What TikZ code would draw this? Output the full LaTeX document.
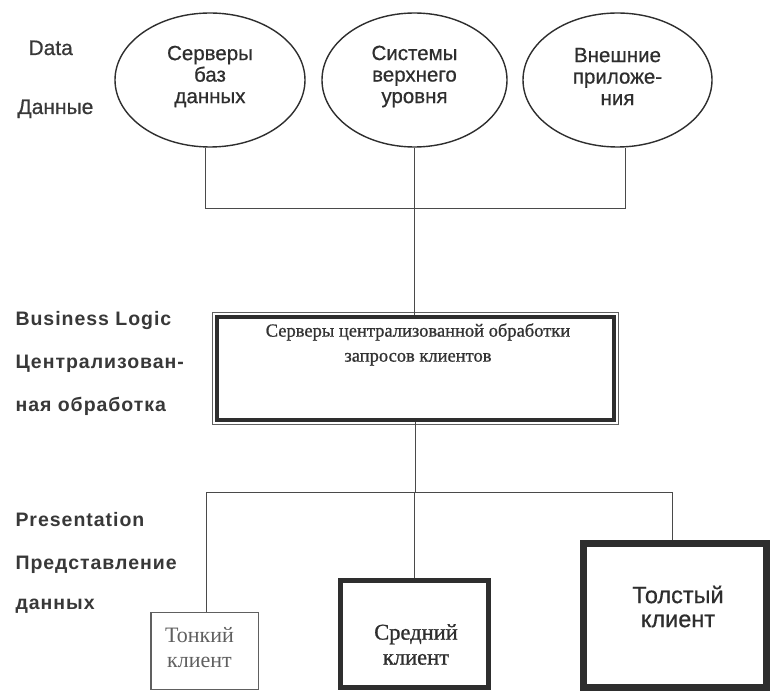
\documentclass[tikz,border=0pt]{standalone}
\usepackage{fontspec}
\setmainfont{Liberation Sans}
\newfontfamily\serifface{Liberation Serif}
\newfontfamily\serifheavy[FakeBold=1]{Liberation Serif}
\newfontfamily\sansheavy[FakeBold=0.6]{Liberation Sans}
\newfontfamily\lblface[LetterSpace=5]{Liberation Sans}
\usetikzlibrary{shapes.geometric,calc}
\definecolor{ink}{HTML}{2E2E2E}
\definecolor{labgray}{HTML}{383838}
\definecolor{linegray}{HTML}{4A4A4A}
\definecolor{thingray}{HTML}{606060}
\begin{document}
\begin{tikzpicture}[x=1pt,y=-1pt,
  conn/.style={draw=linegray, line width=0.9pt},
  db/.style={ellipse, draw=ink, line width=1.4pt, minimum width=190pt, minimum height=134pt, inner sep=0pt},
  etext/.style={font=\sansheavy\fontsize{20.5}{21.5}\selectfont, text=ink, align=center},
  datalab/.style={anchor=base west, font=\sansheavy\fontsize{21}{22}\selectfont, text=labgray},
  lab/.style={anchor=base west, font=\lblface\bfseries\fontsize{19.5}{20}\selectfont, text=labgray},
  bizbox/.style={draw=ink, line width=4pt, minimum width=397pt, minimum height=103pt, inner sep=0pt},
  biztext/.style={font=\serifheavy\fontsize{18.5}{25}\selectfont, text=black!80, align=center},
  thinbox/.style={draw=thingray, line width=1.5pt, minimum width=107.5pt, minimum height=77pt, inner sep=0pt},
  midbox/.style={draw=ink, line width=5pt, minimum width=148pt, minimum height=107pt, inner sep=0pt},
  thickbox/.style={draw=ink, line width=7pt, minimum width=183pt, minimum height=144pt, inner sep=0pt},
  thintext/.style={font=\serifface\fontsize{22}{25}\selectfont, text=thingray, align=center},
  midtext/.style={font=\serifheavy\fontsize{22.5}{25}\selectfont, text=ink, align=center},
  thicktext/.style={font=\sansheavy\fontsize{23.5}{24}\selectfont, text=ink, align=center}
]
\fill[white] (0,0) rectangle (771,692);
\useasboundingbox (0,0) rectangle (771,692);

% left labels
\node[datalab] (ldata) at (25,55) {Data};
\node[datalab] (ldannye) at (14,114) {Данные};
\node[lab] (lbl1) at (12,326) {Business Logic};
\node[lab] (lbl2) at (12,369) {Централизован-};
\node[lab] (lbl3) at (12,412) {ная обработка};
\node[lab] (lpr1) at (12,526) {Presentation};
\node[lab] (lpr2) at (12,569) {Представление};
\node[lab] (lpr3) at (12,609) {данных};

% data layer
\node[db, label={[etext, yshift=3.5pt]center:Серверы\\баз\\данных}] (e1) at (210,80) {};
\node[db, minimum width=185pt, label={[etext, yshift=3.5pt]center:Системы\\верхнего\\уровня}] (e2) at (414.5,80) {};
\node[db, minimum width=189pt, label={[etext, yshift=3.5pt]center:Внешние\\приложе-\\ния}] (e3) at (617.5,80) {};

% business logic
\node[bizbox] (bl) at (415.5,368.5) {};
\draw[draw=thingray, line width=1pt] ($(bl.north west)+(-2.5,-2.5)$) rectangle ($(bl.south east)+(2.5,2.5)$);
\node[biztext] (bltext) at (418,344.5) {Серверы централизованной обработки\\запросов клиентов};

% presentation
\node[thinbox, label={[thintext, xshift=-5pt, yshift=3.5pt]center:Тонкий\\клиент}] (thin) at (204.5,651) {};
\node[midbox, label={[midtext, xshift=1.5pt, yshift=-10.5pt]center:Средний\\клиент}] (mid) at (414.5,634) {};
\node[thickbox, label={[thicktext, xshift=3pt, yshift=9pt]center:Толстый\\клиент}] (thick) at (675,615.5) {};

% connectors
\coordinate (jt) at (625,208);
\draw[conn] ([xshift=-5pt]e1.south) |- (jt) -- (jt |- e3.south);
\draw[conn] (e2.south) -- (e2.south |- bl.north);
\coordinate (jb) at (672,492);
\draw[conn] (bl.south) -- (bl.south |- jb);
\draw[conn] ([xshift=1.5pt]thin.north) |- (jb) -- (jb |- thick.north);
\draw[conn] (mid.north) -- (mid.north |- jb);
\end{tikzpicture}
\end{document}
